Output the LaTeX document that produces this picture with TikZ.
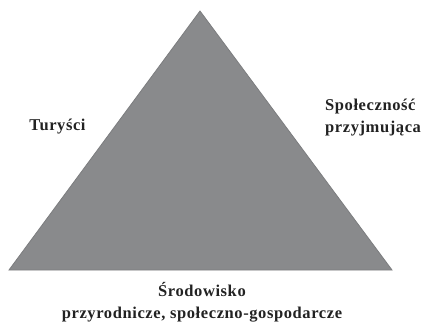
\documentclass[tikz,border=0pt]{standalone}
\usepackage{fontspec}
\setmainfont{Liberation Serif}[LetterSpace=3.6]
\definecolor{trifill}{HTML}{898A8C}
\definecolor{triedge}{HTML}{7C7D7F}
\definecolor{txt}{HTML}{222222}
\begin{document}
\begin{tikzpicture}[x=1pt,y=-1pt,
  lbl/.style={font=\bfseries\fontsize{16.5}{22}\selectfont, text=txt, inner sep=0pt}]
\useasboundingbox (0,0) rectangle (424,322);
\coordinate (top) at (200,11);
\coordinate (bl) at (9,270);
\coordinate (br) at (392,270);
\filldraw[fill=trifill, draw=triedge, line width=0.8pt, line join=miter] (top) -- (br) -- (bl) -- cycle;
\node[lbl] (tur) at (57.5,127) {Turyści};
\node[lbl, align=left, anchor=west] (spol) at (325,117.5) {Społeczność\\przyjmująca};
\node[lbl, align=center] (srod) at (202,302.5) {Środowisko\\przyrodnicze, społeczno-gospodarcze};
\end{tikzpicture}
\end{document}
